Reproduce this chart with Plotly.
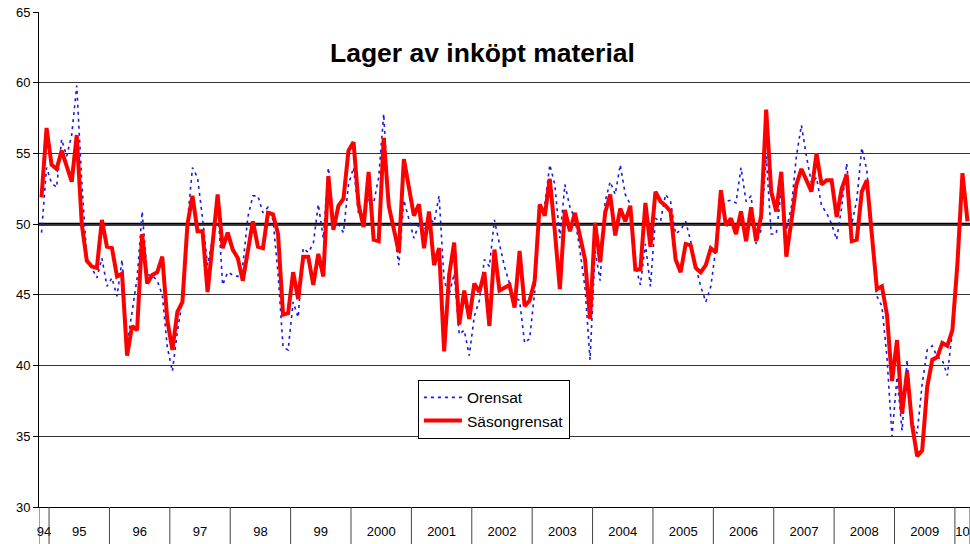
import plotly.graph_objects as go
import numpy as np

# ---- data (monthly, Nov 1994 .. Mar 2010) ----
year_labels = ["94", "95", "96", "97", "98", "99", "2000", "2001", "2002", "2003",
               "2004", "2005", "2006", "2007", "2008", "2009", "10"]
months_in_year = [2] + [12] * 15 + [3]

orensat = [
    49.4, 54.0, 52.9, 52.6, 56.0, 54.8, 56.3, 59.8, 53.0, 47.6,
    46.9, 46.2, 47.6, 45.6, 46.2, 44.9, 47.5, 41.5, 43.8, 46.2,
    50.9, 46.4, 46.4, 46.0, 45.0, 41.3, 39.6, 42.4, 44.6, 50.2,
    54.0, 53.3, 50.4, 47.1, 49.0, 51.4, 45.7, 46.6, 46.4, 46.3,
    47.1, 50.5, 52.0, 52.0, 50.8, 51.2, 50.3, 46.5, 41.3, 41.1,
    44.5, 43.4, 48.3, 48.0, 48.6, 51.4, 49.0, 54.0, 50.4, 50.0,
    49.4, 52.8, 54.0, 50.7, 50.4, 51.9, 51.5, 53.3, 57.8, 51.3,
    49.7, 47.1, 51.7, 50.4, 49.0, 50.0, 49.5, 50.4, 50.1, 52.0,
    46.0, 45.0, 46.5, 42.2, 42.5, 40.7, 43.5, 44.6, 47.5, 47.0,
    50.3, 48.6, 47.0, 45.8, 44.8, 44.6, 41.6, 41.9, 45.2, 50.9,
    51.4, 54.2, 52.8, 49.0, 52.8, 51.2, 50.4, 48.1, 45.5, 40.4,
    48.1, 46.0, 51.6, 53.0, 52.1, 54.2, 52.1, 51.4, 47.1, 45.7,
    48.6, 45.6, 50.4, 50.2, 52.1, 51.6, 49.3, 49.6, 50.2, 48.8,
    47.0, 45.6, 44.5, 45.6, 48.5, 51.0, 51.6, 51.7, 51.5, 54.0,
    51.6, 52.0, 48.6, 49.6, 54.8, 49.3, 49.3, 52.4, 49.6, 51.2,
    54.8, 57.0, 54.8, 52.9, 53.3, 51.3, 50.8, 50.0, 48.9, 51.2,
    54.3, 50.0, 51.7, 55.4, 53.8, 49.6, 44.9, 44.2, 40.6, 35.0,
    39.2, 35.4, 40.4, 35.9, 35.2, 38.7, 41.1, 41.4, 40.6, 40.4,
    39.3, 42.5, 47.2, 53.0, 50.0,
]

sasongrensat = [
    51.9, 56.8, 54.2, 53.9, 55.2, 54.1, 53.0, 56.3, 50.0, 47.4,
    47.0, 46.9, 50.3, 48.4, 48.3, 46.3, 46.5, 40.7, 42.8, 42.5,
    49.3, 45.8, 46.4, 46.6, 47.7, 43.2, 41.1, 43.8, 44.5, 50.0,
    52.0, 49.5, 49.5, 45.2, 49.0, 52.1, 48.3, 49.4, 48.2, 47.6,
    46.0, 48.3, 50.2, 48.4, 48.3, 50.8, 50.7, 49.3, 43.6, 43.7,
    46.6, 44.7, 47.7, 47.7, 45.7, 47.9, 46.3, 53.4, 49.6, 51.3,
    51.8, 55.2, 55.8, 51.4, 49.8, 53.7, 48.9, 48.8, 56.1, 51.3,
    49.7, 48.0, 54.6, 52.6, 50.6, 51.4, 48.3, 50.9, 47.1, 48.3,
    41.0, 46.4, 48.7, 42.9, 45.3, 43.3, 45.8, 45.2, 46.6, 42.8,
    48.2, 45.3, 45.5, 45.7, 44.1, 48.1, 44.2, 44.6, 46.0, 51.4,
    50.6, 53.2, 49.5, 45.4, 51.0, 49.5, 50.8, 49.3, 47.5, 43.3,
    50.1, 47.3, 50.8, 52.1, 49.2, 51.1, 50.2, 51.3, 46.8, 46.8,
    51.5, 48.4, 52.3, 51.6, 51.3, 50.9, 47.5, 46.6, 48.6, 48.5,
    46.9, 46.6, 47.1, 48.3, 48.0, 52.4, 49.9, 50.4, 49.3, 50.9,
    48.8, 51.2, 48.8, 50.6, 58.1, 52.3, 50.9, 53.7, 47.7, 50.2,
    52.8, 53.9, 53.1, 52.3, 55.0, 52.8, 53.1, 53.1, 50.5, 52.5,
    53.5, 48.8, 48.9, 52.3, 53.1, 49.3, 45.4, 45.6, 43.6, 38.9,
    41.8, 36.6, 39.6, 35.8, 33.6, 34.0, 38.5, 40.4, 40.6, 41.6,
    41.4, 42.5, 47.2, 53.6, 50.2,
]

y_ticks = [30, 35, 40, 45, 50, 55, 60, 65]
reference_level = 50
title_text = "Lager av inköpt material"
series_names = ["Orensat", "Säsongrensat"]

# ---- derived positions ----
n = len(sasongrensat)
x = list(range(n))
bounds = np.concatenate([[0], np.cumsum(months_in_year)]) - 0.5
centers = [(bounds[k] + bounds[k + 1]) / 2 for k in range(len(year_labels))]

FONT = "Liberation Sans, Arial, sans-serif"

fig = go.Figure()
fig.add_trace(go.Scatter(
    x=x, y=orensat, mode="lines", name=series_names[0],
    line=dict(color="#1A1AE0", width=1.6, dash="3px,4px"),
))
fig.add_trace(go.Scatter(
    x=x, y=sasongrensat, mode="lines", name=series_names[1],
    line=dict(color="#FF0000", width=4),
))

# thick reference line at 50
fig.add_shape(type="line", xref="paper", x0=0, x1=1, yref="y",
              y0=reference_level, y1=reference_level,
              line=dict(color="black", width=3), layer="below")

# year separators below the axis
for b in bounds:
    fig.add_shape(type="line", xref="x", x0=b, x1=b, yref="paper",
                  y0=0, y1=-0.08, line=dict(color="#444444", width=1))

fig.add_annotation(text="<b>" + title_text + "</b>", xref="paper", yref="paper",
                   x=0.476, y=0.917, xanchor="center", yanchor="middle",
                   showarrow=False,
                   font=dict(family=FONT, size=26.5, color="black"))

fig.update_layout(
    width=970, height=544, autosize=False,
    margin=dict(l=39, r=0, t=12, b=37),
    paper_bgcolor="white", plot_bgcolor="white",
    font=dict(family=FONT, size=13, color="black"),
    showlegend=True,
    legend=dict(x=0.407, y=0.257, xanchor="left", yanchor="top",
                bgcolor="white", bordercolor="black", borderwidth=1,
                font=dict(family=FONT, size=15.5, color="black"),
                tracegroupgap=0, itemwidth=38),
)
fig.update_xaxes(
    range=[-0.5, n - 0.5], showgrid=False, zeroline=False,
    showline=True, linecolor="black", linewidth=1,
    tickmode="array", tickvals=centers, ticktext=year_labels,
    ticks="", ticklabelstandoff=12,
    tickfont=dict(family=FONT, size=13, color="black"),
)
fig.update_yaxes(
    range=[30, 65], tickmode="array", tickvals=y_ticks,
    showgrid=True, gridcolor="#333333", gridwidth=1,
    zeroline=False, showline=True, linecolor="black", linewidth=1,
    mirror=True,
    ticks="outside", ticklen=5, tickcolor="black",
    tickfont=dict(family=FONT, size=13, color="black"),
)

fig.write_html("out.html",
               config={"displayModeBar": False},
               post_script="document.body.style.margin='0';"
                           "document.body.style.overflow='hidden';")
